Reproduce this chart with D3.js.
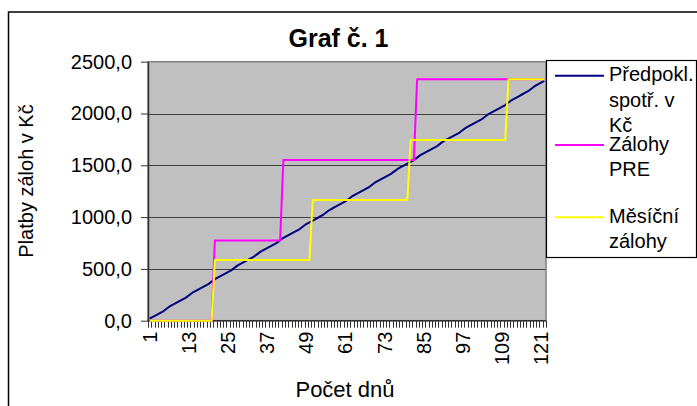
<!DOCTYPE html>
<html>
<head>
<meta charset="utf-8">
<script src="https://cdn.jsdelivr.net/npm/d3@7"></script>
<style>
  html, body { margin: 0; padding: 0; background: #fff; }
  svg { display: block; font-family: "Liberation Sans", Arial, sans-serif; }
</style>
</head>
<body>
<svg id="chart" width="697" height="406"></svg>
<script>
// ---------- DATA ----------
const titleText = "Graf č. 1";
const yTitle = "Platby záloh v Kč";
const xTitle = "Počet dnů";

const days = [1,2,3,4,5,6,7,8,9,10,11,12,13,14,15,16,17,18,19,20,
  21,22,23,24,25,26,27,28,29,30,31,32,33,34,35,36,37,38,39,40,
  41,42,43,44,45,46,47,48,49,50,51,52,53,54,55,56,57,58,59,60,
  61,62,63,64,65,66,67,68,69,70,71,72,73,74,75,76,77,78,79,80,
  81,82,83,84,85,86,87,88,89,90,91,92,93,94,95,96,97,98,99,100,
  101,102,103,104,105,106,107,108,109,110,111,112,113,114,115,116,117,118,119,120,
  121,122];

const xTickLabels = [1,13,25,37,49,61,73,85,97,109,121];
const yTickValues = [0,500,1000,1500,2000,2500];

const seriesNames = ["Předpokl. spotř. v Kč", "Zálohy PRE", "Měsíční zálohy"];
const legendLines = [["Předpokl.","spotř. v","Kč"],["Zálohy","PRE"],["Měsíční","zálohy"]];

const spotreba = [19,36,53,70,87,111,135,
  152,169,186,203,220,244,268,
  285,302,319,336,353,377,401,
  418,435,452,469,486,510,534,
  551,568,585,602,619,643,667,
  684,701,718,735,752,776,800,
  817,834,851,868,885,909,933,
  950,967,984,1001,1018,1042,1066,
  1083,1100,1117,1134,1151,1175,1199,
  1216,1233,1250,1267,1284,1308,1332,
  1349,1366,1383,1400,1417,1441,1465,
  1482,1499,1516,1533,1550,1574,1598,
  1615,1632,1649,1666,1683,1707,1731,
  1748,1765,1782,1799,1816,1840,1864,
  1881,1898,1915,1932,1949,1973,1997,
  2014,2031,2048,2065,2082,2106,2130,
  2147,2164,2181,2198,2215,2239,2263,
  2280,2297,2314];

const zalohyPRE = [0,0,0,0,0,0,0,0,0,0,0,0,0,0,0,0,0,0,0,0,
  775,775,775,775,775,775,775,775,775,775,775,775,775,775,775,775,775,775,775,775,775,
  1550,1550,1550,1550,1550,1550,1550,1550,1550,1550,1550,1550,1550,1550,1550,1550,1550,1550,1550,1550,
  1550,1550,1550,1550,1550,1550,1550,1550,1550,1550,1550,1550,1550,1550,1550,1550,1550,1550,1550,1550,1550,
  2330,2330,2330,2330,2330,2330,2330,2330,2330,2330,2330,2330,2330,2330,2330,2330,2330,2330,2330,2330,
  2330,2330,2330,2330,2330,2330,2330,2330,2330,2330,2330,2330,2330,2330,2330,2330,2330,2330,2330,2330];

const mesicniZalohy = [0,0,0,0,0,0,0,0,0,0,0,0,0,0,0,0,0,0,0,0,
  585,585,585,585,585,585,585,585,585,585,585,585,585,585,585,585,585,585,585,585,
  585,585,585,585,585,585,585,585,585,585,
  1165,1165,1165,1165,1165,1165,1165,1165,1165,1165,1165,1165,1165,1165,1165,
  1165,1165,1165,1165,1165,1165,1165,1165,1165,1165,1165,1165,1165,1165,1165,
  1745,1745,1745,1745,1745,1745,1745,1745,1745,1745,1745,1745,1745,1745,1745,
  1745,1745,1745,1745,1745,1745,1745,1745,1745,1745,1745,1745,1745,1745,1745,
  2330,2330,2330,2330,2330,2330,2330,2330,2330,2330,2330,2330];

const seriesColors = ["#000080", "#ff00ff", "#ffff00"];

// ---------- LAYOUT ----------
const svg = d3.select("#chart");
const plot = { left: 148, right: 546, top: 61.7, bottom: 320.7 };
const FONT = 20;

// outer chart frame
svg.append("rect").attr("x", 8.5).attr("y", 12).attr("width", 720).attr("height", 420)
  .attr("fill", "#fff").attr("stroke", "#000").attr("stroke-width", 1.5);

const x = d3.scaleBand().domain(days).range([plot.left, plot.right]).paddingInner(0).paddingOuter(0);
const y = d3.scaleLinear().domain([0, 2500]).range([plot.bottom, plot.top]);
const cx = d => x(d) + x.bandwidth() / 2;

// plot area
svg.append("rect").attr("x", plot.left).attr("y", plot.top)
  .attr("width", plot.right - plot.left).attr("height", plot.bottom - plot.top)
  .attr("fill", "#c0c0c0");

// gridlines
svg.append("g").selectAll("line").data(yTickValues.filter(v => v > 0 && v < 2500)).join("line")
  .attr("x1", plot.left).attr("x2", plot.right)
  .attr("y1", d => Math.round(y(d)) + 0.5).attr("y2", d => Math.round(y(d)) + 0.5)
  .attr("stroke", "#404040").attr("stroke-width", 1);

// plot border
svg.append("rect").attr("x", plot.left).attr("y", plot.top)
  .attr("width", plot.right - plot.left).attr("height", plot.bottom - plot.top)
  .attr("fill", "none").attr("stroke", "#808080").attr("stroke-width", 1.5);

// y axis
const yAxis = d3.axisLeft(y).tickValues(yTickValues).tickSize(7).tickSizeOuter(0).tickPadding(9)
  .tickFormat(d => d3.format(".1f")(d).replace(".", ","));
const gy = svg.append("g").attr("transform", `translate(${plot.left},0)`).call(yAxis);
gy.select(".domain").attr("stroke", "#333").attr("stroke-width", 1.5);
gy.selectAll(".tick line").attr("stroke", "#333");
gy.selectAll(".tick text").attr("font-size", FONT).attr("fill", "#000")
  .attr("font-family", "Liberation Sans, Arial, sans-serif");

// x axis line
svg.append("line").attr("x1", plot.left).attr("x2", plot.right)
  .attr("y1", plot.bottom).attr("y2", plot.bottom).attr("stroke", "#333").attr("stroke-width", 1.5);

// x ticks at category boundaries
const bounds = days.map(d => x(d)).concat([x.range()[1]]);
svg.append("g").selectAll("line").data(bounds).join("line")
  .attr("x1", d => Math.round(d) + 0.5).attr("x2", d => Math.round(d) + 0.5)
  .attr("y1", plot.bottom).attr("y2", plot.bottom + 7)
  .attr("stroke", "#333").attr("stroke-width", 1);

// x tick labels
svg.append("g").selectAll("text").data(xTickLabels).join("text")
  .attr("transform", d => `translate(${cx(d)},${plot.bottom + 11}) rotate(-90)`)
  .attr("text-anchor", "end").attr("dy", "0.35em")
  .attr("font-size", FONT).attr("fill", "#000").text(d => d);

// series lines
const line = d3.line().x((v, i) => cx(days[i])).y(v => y(v));
[spotreba, zalohyPRE, mesicniZalohy].forEach((s, k) => {
  svg.append("path").datum(s).attr("d", line)
    .attr("fill", "none").attr("stroke", seriesColors[k]).attr("stroke-width", 2)
    .attr("stroke-linejoin", "round");
});

// title
svg.append("text").attr("x", 338.5).attr("y", 46.7).attr("text-anchor", "middle")
  .attr("font-size", 25).attr("font-weight", "bold").text(titleText);

// axis titles
svg.append("text").attr("transform", "translate(33,181) rotate(-90)")
  .attr("text-anchor", "middle").attr("font-size", FONT).text(yTitle);
svg.append("text").attr("x", 345).attr("y", 396.7).attr("text-anchor", "middle")
  .attr("font-size", 22).text(xTitle);

// legend
svg.append("rect").attr("x", 546.5).attr("y", 60.5).attr("width", 150).attr("height", 197)
  .attr("fill", "#fff").attr("stroke", "#000").attr("stroke-width", 1.2);
const entryY = [75.7, 145, 217.3];
seriesNames.forEach((name, k) => {
  const g = svg.append("g");
  g.append("line").attr("x1", 555).attr("x2", 604).attr("y1", entryY[k]).attr("y2", entryY[k])
    .attr("stroke", seriesColors[k]).attr("stroke-width", 2);
  const t = g.append("text").attr("x", 609).attr("y", entryY[k] + 5.5).attr("font-size", FONT);
  legendLines[k].forEach((ln, j) => {
    t.append("tspan").attr("x", 609).attr("dy", j === 0 ? 0 : 25.3).text(ln);
  });
});
</script>
</body>
</html>
